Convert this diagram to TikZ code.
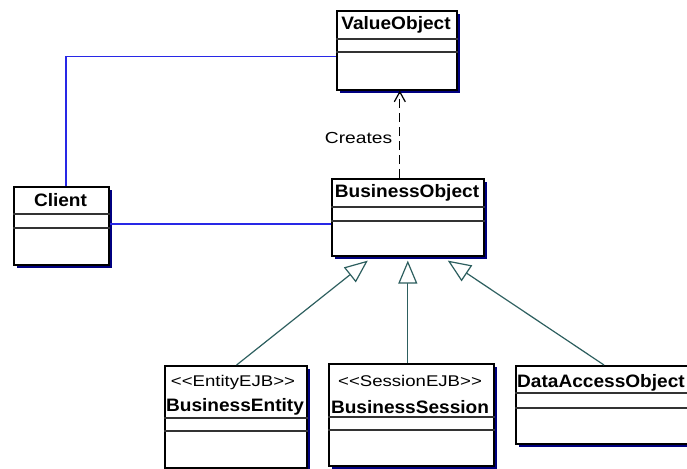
\documentclass[tikz,border=0pt]{standalone}
\usepackage{fontspec}
\setsansfont{Liberation Sans}
\newfontfamily\clsfont[FakeStretch=1.06]{Liberation Sans}
\newfontfamily\lblfont[FakeStretch=1.2]{Liberation Sans}
\usetikzlibrary{arrows.meta,shadows,calc}

\definecolor{shadowblue}{RGB}{0,0,128}
\definecolor{assocblue}{RGB}{40,40,230}
\definecolor{genteal}{RGB}{45,95,95}

\tikzset{
    cls/.style={draw, fill=white, line width=1.6pt, anchor=north west, inner sep=0pt,
        drop shadow={shadow xshift=3.5pt, shadow yshift=-3.5pt, fill=shadowblue, opacity=1}},
    divl/.style={draw=black!80, line width=1.3pt},
    ttl/.style={font=\clsfont\bfseries\fontsize{18}{21}\selectfont, inner sep=0pt},
    stereo/.style={font=\lblfont\fontsize{15.5}{18}\selectfont, inner sep=0pt},
    assoc/.style={draw=assocblue, line width=1.4pt},
    gen/.style={draw=genteal, line width=1.2pt, -{Triangle[open, length=23pt, width=19pt, fill=white]}},
    dep/.style={draw=black, line width=1.2pt, dash pattern=on 9pt off 5pt,
        -{Straight Barb[length=10pt, width=11pt, line width=1.2pt]}}
}

\begin{document}
\begin{tikzpicture}[x=1pt, y=-1pt]
            \useasboundingbox (0,0) rectangle (687,468);

            % classes
            \node[cls, minimum width=120, minimum height=79] (vo) at (336,10) {};
            \node[cls, minimum width=95, minimum height=78] (cl) at (13,186) {};
            \node[cls, minimum width=152, minimum height=77] (bo) at (331,178) {};
            \node[cls, minimum width=142, minimum height=102] (be) at (164,365) {};
            \node[cls, minimum width=165, minimum height=102] (bs) at (328,363) {};
            \node[cls, minimum width=180, minimum height=78] (dao) at (515,365) {};

            % compartments
            \draw[divl] (vo.west |- 0,39) -- (vo.east |- 0,39);
            \draw[divl] (vo.west |- 0,52) -- (vo.east |- 0,52);
            \draw[divl] (cl.west |- 0,214) -- (cl.east |- 0,214);
            \draw[divl] (cl.west |- 0,228) -- (cl.east |- 0,228);
            \draw[divl] (bo.west |- 0,207) -- (bo.east |- 0,207);
            \draw[divl] (bo.west |- 0,221) -- (bo.east |- 0,221);
            \draw[divl] (be.west |- 0,418) -- (be.east |- 0,418);
            \draw[divl] (be.west |- 0,431) -- (be.east |- 0,431);
            \draw[divl] (bs.west |- 0,417) -- (bs.east |- 0,417);
            \draw[divl] (bs.west |- 0,430) -- (bs.east |- 0,430);
            \draw[divl] (dao.west |- 0,393) -- (dao.east |- 0,393);
            \draw[divl] (dao.west |- 0,408) -- (dao.east |- 0,408);

            % names
            \node[ttl] (vot) at (396,24.5) {ValueObject};
            \node[ttl] (clt) at (60.5,200) {Client};
            \node[ttl] (bot) at (407,192.5) {BusinessObject};
            \node[stereo] (bes) at (233,382) {<<EntityEJB>>};
            \node[ttl] (bet) at (235,407) {BusinessEntity};
            \node[stereo] (bss) at (410,381) {<<SessionEJB>>};
            \node[ttl] (bst) at (410,407) {BusinessSession};
            \node[ttl, anchor=west] (daot) at (517,383) {DataAccessObject};

            % associations
            \draw[assoc] ([xshift=4.5pt]cl.north) |- ([yshift=-6.5pt]vo.west);
            \draw[assoc] ([yshift=-6.5pt]bo.west) -- ([yshift=-6.5pt]bo.west -| cl.east);

            % dependency
            \draw[dep] ([xshift=-8pt]bo.north) -- ([xshift=-8pt]bo.north |- vo.south)
                node[midway, left=7pt, yshift=-3.5pt, stereo, font=\lblfont\fontsize{16}{19}\selectfont] (crt) {Creates};

            % generalizations
            \draw[gen] ([xshift=-71pt]be.north east) -- ([xshift=-40pt, yshift=-4pt]bo.south);
            \draw[gen] (bs.north -| bo.south) -- ([yshift=-4pt]bo.south);
            \draw[gen] ([xshift=89pt]dao.north west) -- ([xshift=40pt, yshift=-4pt]bo.south);
        \end{tikzpicture}
\end{document}
